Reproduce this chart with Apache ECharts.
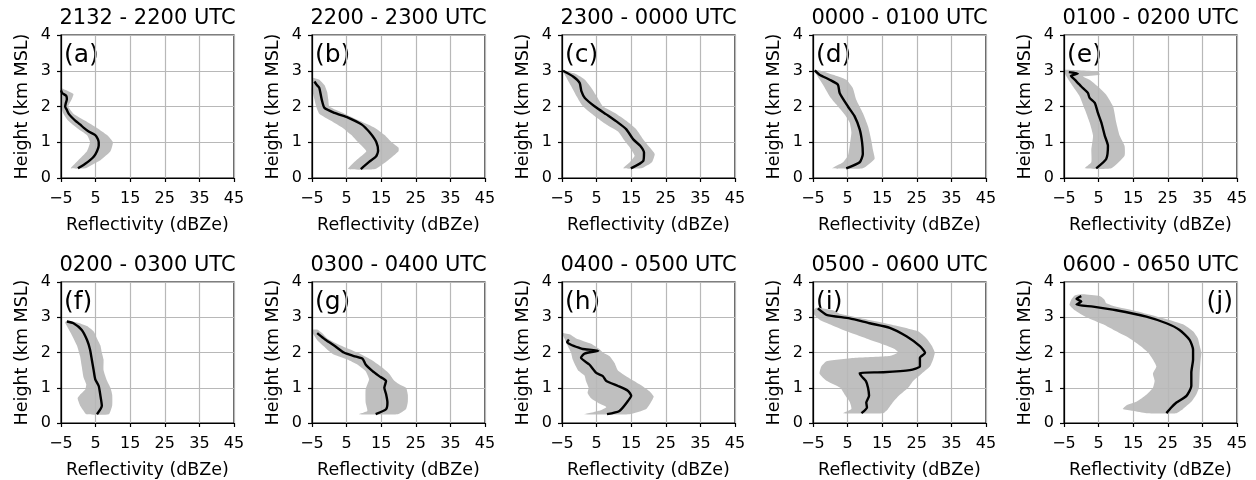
<!DOCTYPE html>
<html>
<head>
<meta charset="utf-8">
<script src="https://cdn.jsdelivr.net/npm/echarts@6/dist/echarts.min.js"></script>
<style>
  html, body { margin: 0; background: #fff; }
  #chart { width: 1256px; height: 480px; }
</style>
</head>
<body>
<div id="chart"></div>
<script>
// reflectivity profiles, points are [dBZe, height km]
const medA = [[-0.1,0.27],[2.0,0.4],[3.4,0.5],[4.5,0.6],[5.4,0.75],[5.9,0.9],[5.9,1.0],[5.6,1.1],[4.9,1.2],[3.0,1.3],[1.6,1.4],[0.5,1.5],[-0.8,1.6],[-1.9,1.7],[-2.8,1.8],[-3.3,1.9],[-3.8,2.0],[-3.6,2.1],[-3.3,2.2],[-3.5,2.3],[-4.6,2.37],[-5,2.45]];
const loA = [[-2.2,0.27],[-1.0,0.4],[0.0,0.5],[2.5,0.75],[3.4,1.0],[2.5,1.2],[-0.4,1.4],[-2.9,1.6],[-4.3,1.8],[-5,2.0],[-5,2.52]];
const hiA = [[2.0,0.27],[4.5,0.4],[6.4,0.5],[9.3,0.75],[10,1.0],[8.3,1.2],[5.4,1.4],[2.0,1.6],[-1.4,1.8],[-2.9,2.0],[-1.9,2.2],[-1.4,2.35],[-3.3,2.45],[-5,2.52]];

const medB = [[9.1,0.25],[11.5,0.45],[13.5,0.6],[14.1,0.76],[13.6,1.0],[11.7,1.27],[9.3,1.5],[5.4,1.69],[1.5,1.82],[-1.4,1.96],[-2.2,2.2],[-2.9,2.52],[-3.6,2.6],[-4.3,2.7]];
const loB = [[5.4,0.25],[7.8,0.5],[10.7,0.75],[8.3,1.0],[6.4,1.2],[3.9,1.4],[0.5,1.6],[-2.9,1.8],[-3.8,2.0],[-4.3,2.2],[-5,2.5],[-5,2.8]];
const hiB = [[13.2,0.25],[17,0.5],[20,0.75],[20,0.85],[18,1.0],[16,1.2],[13.2,1.4],[8.8,1.6],[4.4,1.8],[0,2.0],[-0.3,2.2],[-0.6,2.4],[-1.4,2.6],[-2.9,2.75],[-4.5,2.8]];

const medC = [[14.9,0.27],[18.5,0.48],[18.7,0.71],[17.6,0.9],[15.6,1.08],[13.6,1.36],[11.2,1.55],[7.8,1.78],[4.5,2.0],[1.6,2.24],[0.6,2.43],[0.1,2.66],[-1.8,2.84],[-4.7,3.0]];
const loC = [[12.7,0.27],[14.6,0.44],[16,0.62],[15,0.8],[13.1,1.04],[11.2,1.3],[7.8,1.5],[4.5,1.73],[1.1,2.0],[-0.8,2.29],[-2.3,2.56],[-4.2,2.89],[-5,3.0]];
const hiC = [[17.9,0.27],[21,0.44],[21.8,0.67],[20.4,0.85],[18.5,1.08],[16.5,1.36],[13.6,1.6],[10.3,1.82],[6.9,2.0],[5,2.29],[3.5,2.52],[1.6,2.75],[-1.3,2.92],[-4.7,3.0]];

const medD = [[4.6,0.27],[8.5,0.44],[9.4,0.67],[9.2,0.99],[8.5,1.36],[7.0,1.73],[5.1,2.0],[2.7,2.38],[2.2,2.61],[-0.2,2.75],[-3.1,2.89],[-4.5,3.01]];
const loD = [[0.6,0.27],[3.7,0.44],[5.1,0.62],[5.6,0.9],[6.1,1.27],[5.6,1.55],[4.1,1.78],[1.7,2.06],[-0.2,2.29],[-2.1,2.61],[-4,2.89],[-4.7,3.0]];
const hiD = [[9.4,0.27],[12.8,0.53],[12.3,0.8],[11.8,1.08],[10.9,1.45],[9.4,1.82],[7.5,2.19],[6.5,2.52],[4.6,2.75],[0.8,2.89],[-3.1,3.01]];

const medE = [[4.3,0.27],[7.2,0.53],[7.7,0.9],[6.8,1.18],[5.8,1.55],[4.8,1.82],[3.9,2.1],[2.4,2.24],[1.9,2.38],[0,2.56],[-1.9,2.75],[-3,2.86],[-1.0,2.92],[-3.6,2.96]];
const loE = [[1.0,0.27],[2.9,0.44],[2.9,0.8],[3.4,1.18],[2.4,1.55],[1,1.92],[-0.5,2.29],[-2.4,2.56],[-4.3,2.84],[-5,2.98]];
const hiE = [[8.7,0.27],[12.5,0.62],[12.5,0.9],[11.1,1.18],[10.1,1.55],[9.2,2.0],[7.2,2.33],[4.8,2.56],[2.4,2.75],[0.5,2.84],[5.3,2.89],[4.8,2.98],[-4.8,3.03]];

const medF = [[5.4,0.25],[6.8,0.49],[6.4,0.77],[5.9,1.05],[4.9,1.24],[4.4,1.52],[3.9,1.8],[3.4,2.08],[2.5,2.36],[1.0,2.64],[-1.4,2.83],[-3.3,2.88]];
const loF = [[2.3,0.25],[1.5,0.35],[0.5,0.5],[-0.2,0.7],[0.5,0.8],[2.0,0.95],[2.3,1.1],[1.5,1.3],[1.0,1.6],[0.5,1.9],[-0.4,2.2],[-1.9,2.5],[-3.3,2.75],[-3.8,2.85]];
const hiF = [[8.8,0.25],[9.8,0.5],[9.8,0.8],[9.3,1.0],[8.3,1.2],[7.3,1.5],[7.3,1.8],[6.8,2.0],[6.4,2.2],[5.4,2.4],[4.4,2.6],[2.5,2.75],[-0.4,2.85],[-3.3,2.9]];

const medG = [[13.4,0.25],[16.4,0.39],[16.8,0.58],[16.4,0.82],[15.9,1.0],[16.4,1.19],[14.4,1.33],[12.5,1.47],[10.5,1.66],[9.6,1.82],[7.1,1.9],[4.2,2.0],[1.8,2.17],[-1.1,2.36],[-3.5,2.55]];
const loG = [[8.6,0.25],[11.0,0.34],[10.5,0.58],[10.5,0.96],[11.5,1.24],[10.5,1.47],[8.1,1.66],[5.2,1.8],[1.3,1.94],[-1.1,2.13],[-3.1,2.31],[-4.5,2.5],[-5,2.64]];
const hiG = [[19.8,0.25],[22.2,0.4],[22.7,0.6],[22.7,0.8],[22.2,1.0],[20.2,1.1],[18.8,1.2],[17.3,1.4],[14.9,1.6],[12,1.8],[8.1,2.0],[3.3,2.2],[-0.6,2.4],[-2.1,2.55],[-3.5,2.65]];

const medH = [[8.0,0.25],[11.6,0.34],[14.1,0.63],[15.0,0.77],[14.1,0.91],[11.2,1.05],[7.8,1.19],[6.8,1.33],[4.9,1.42],[2.9,1.66],[0.5,1.85],[1.5,1.97],[5.5,2.05],[1.0,2.1],[0,2.13],[-2.4,2.22],[-3.5,2.3],[-3.0,2.37]];
const loH = [[1.5,0.25],[5.8,0.35],[7.8,0.45],[5.8,0.55],[3.4,0.7],[2.4,0.85],[2.7,1.0],[1.9,1.2],[1.5,1.35],[-0.4,1.5],[-1.9,1.8],[-2.4,2.0],[-3.4,2.2],[-4.3,2.4],[-4.8,2.5]];
const hiH = [[14.5,0.25],[19.4,0.4],[20.8,0.6],[21.5,0.75],[20.3,0.9],[17.4,1.1],[14,1.3],[11.1,1.5],[10.2,1.7],[8.7,1.9],[6.8,2.0],[5.8,2.1],[3.4,2.25],[-0.9,2.4],[-2.4,2.5],[-4.8,2.55]];

const medI = [[9.0,0.28],[10.6,0.44],[10.4,0.58],[11.2,0.77],[10.9,1.0],[10.3,1.19],[9.0,1.33],[8.5,1.42],[15.3,1.44],[23,1.5],[25.9,1.61],[25.9,1.85],[27.4,1.99],[25.9,2.18],[22,2.46],[17.2,2.7],[11.4,2.83],[5.6,2.97],[-1.1,3.07],[-3.6,3.25]];
const loI = [[3.7,0.28],[6.1,0.4],[5.6,0.6],[4.2,0.8],[2.9,1.0],[-1.1,1.2],[-3.1,1.4],[-2.6,1.6],[-1.1,1.75],[7.5,1.85],[17.2,1.9],[19.6,2.0],[18.6,2.1],[16.2,2.2],[10.4,2.4],[4.7,2.6],[-0.2,2.8],[-2.6,2.9],[-4.0,3.0],[-4.8,3.1],[-4.8,3.2]];
const hiI = [[15.3,0.28],[16.7,0.4],[18.2,0.6],[20.1,0.8],[22.5,1.0],[24,1.2],[26.4,1.4],[28.8,1.6],[29.7,1.8],[30.2,2.0],[29.3,2.2],[27.8,2.4],[25.4,2.6],[17.2,2.8],[7.5,3.0],[2.7,3.1],[0.8,3.2],[-4,3.27]];

const medJ = [[24.6,0.28],[26.0,0.44],[27.5,0.58],[30.4,0.77],[31.8,1.05],[31.8,1.43],[32.3,1.8],[32.3,2.08],[31.3,2.36],[28.4,2.64],[24.6,2.83],[18.8,3.02],[10.1,3.2],[3.4,3.3],[-1.4,3.36],[0,3.45],[-1.4,3.52],[0,3.6]];
const loJ = [[18.8,0.28],[14.9,0.35],[12.0,0.4],[13.0,0.5],[15.9,0.6],[18.8,0.8],[20.7,1.0],[21.2,1.2],[20.7,1.4],[21.7,1.6],[20.7,1.8],[19.3,2.0],[16.9,2.2],[14,2.4],[10.1,2.6],[6.3,2.8],[1.5,3.0],[-1.9,3.2],[-3.4,3.35],[-2.9,3.5],[-1.9,3.62]];
const hiJ = [[27.5,0.28],[29.4,0.4],[31.8,0.6],[33.2,0.8],[34,1.0],[34.2,1.4],[34.5,1.8],[34.7,2.0],[34.2,2.2],[33.7,2.4],[32.3,2.6],[29.4,2.8],[22.6,3.0],[14.9,3.2],[10.1,3.3],[7.2,3.4],[6.7,3.5],[5.3,3.6],[0.5,3.65]];

const titles = ['2132 - 2200 UTC', '2200 - 2300 UTC', '2300 - 0000 UTC', '0000 - 0100 UTC', '0100 - 0200 UTC',
                '0200 - 0300 UTC', '0300 - 0400 UTC', '0400 - 0500 UTC', '0500 - 0600 UTC', '0600 - 0650 UTC'];
const letters = ['(a)', '(b)', '(c)', '(d)', '(e)', '(f)', '(g)', '(h)', '(i)', '(j)'];
const xTicks = [-5, 5, 15, 25, 35, 45];

const medians = [medA, medB, medC, medD, medE, medF, medG, medH, medI, medJ];
const lows = [loA, loB, loC, loD, loE, loF, loG, loH, loI, loJ];
const highs = [hiA, hiB, hiC, hiD, hiE, hiF, hiG, hiH, hiI, hiJ];

const FONT = 'DejaVu Sans';
const lefts = [61, 312, 562, 813, 1064];
const tops = [35, 282];
const W = 173, H = 143;

const minus = v => String(v).replace('-', '\u2212');

const grid = [], xAxis = [], yAxis = [], series = [], graphic = [];

titles.forEach((t, i) => {
  const left = lefts[i % 5], top = tops[Math.floor(i / 5)];
  grid.push({ left: left, top: top, width: W, height: H, show: true,
              borderColor: '#000', borderWidth: 1.2, backgroundColor: 'transparent' });
  xAxis.push({
    type: 'value', gridIndex: i, min: -5, max: 45, z: 2,
    name: 'Reflectivity (dBZe)', nameLocation: 'middle', nameGap: 38,
    nameTextStyle: { fontFamily: FONT, fontSize: 17.5, color: '#000' },
    axisLine: { show: true, onZero: false, lineStyle: { color: '#000', width: 1.2 } },
    axisTick: { show: true, length: 4, customValues: xTicks, lineStyle: { color: '#000', width: 1.2 } },
    axisLabel: { customValues: xTicks, margin: 13, fontFamily: FONT, fontSize: 16, color: '#000', formatter: minus },
    splitLine: { show: true, lineStyle: { color: '#b8b8b8', width: 1.2 } }
  });
  yAxis.push({
    type: 'value', gridIndex: i, min: 0, max: 4, interval: 1, z: 2,
    name: 'Height (km MSL)', nameLocation: 'middle', nameGap: 30,
    nameTextStyle: { fontFamily: FONT, fontSize: 17.5, color: '#000' },
    axisLine: { show: true, onZero: false, lineStyle: { color: '#000', width: 1.2 } },
    axisTick: { show: true, length: 4, lineStyle: { color: '#000', width: 1.2 } },
    axisLabel: { margin: 10, fontFamily: FONT, fontSize: 16, color: '#000' },
    splitLine: { show: true, lineStyle: { color: '#b8b8b8', width: 1.2 } }
  });

  const poly = lows[i].concat(highs[i].slice().reverse());
  series.push({
    type: 'custom', xAxisIndex: i, yAxisIndex: i, z: 1, silent: true,
    data: [[0, 0]],
    renderItem: (params, api) => ({
      type: 'polygon',
      shape: { points: poly.map(p => api.coord(p)), smooth: 0.15 },
      style: { fill: '#bfbfbf' }
    })
  });
  series.push({
    type: 'line', xAxisIndex: i, yAxisIndex: i, z: 3,
    data: medians[i], symbol: 'none', silent: true, smooth: 0.2,
    lineStyle: { color: '#000', width: 2.4 }
  });

  graphic.push({
    type: 'text', x: left + W / 2, y: top - 16,
    style: { text: t, fontFamily: FONT, fontSize: 21, fill: '#000', textAlign: 'center', textVerticalAlign: 'middle' }
  });
  const right = i === 9;
  graphic.push({
    type: 'text', x: right ? left + W - 4 : left + 3, y: top + 20,
    style: { text: letters[i], fontFamily: FONT, fontSize: 25, fill: '#000',
             textAlign: right ? 'right' : 'left', textVerticalAlign: 'middle' }
  });
});

const chart = echarts.init(document.getElementById('chart'));
chart.setOption({
  animation: false,
  backgroundColor: '#fff',
  grid: grid,
  xAxis: xAxis,
  yAxis: yAxis,
  series: series,
  graphic: graphic
});
</script>
</body>
</html>
